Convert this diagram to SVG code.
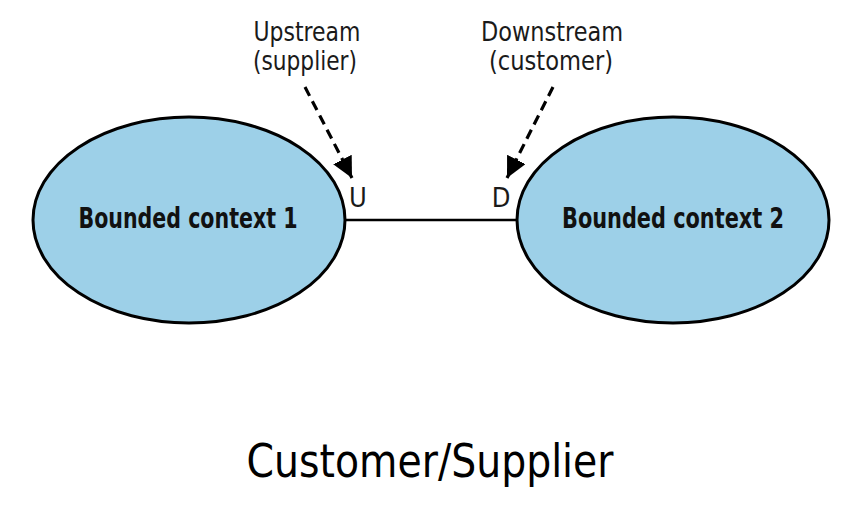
<svg xmlns="http://www.w3.org/2000/svg" width="863" height="510" viewBox="0 0 863 510">
<style>
.ctx{fill:#9dd0e8;stroke:#000;stroke-width:3}
.lbl{font-family:"DejaVu Sans Condensed","DejaVu Sans",sans-serif;font-size:27px;fill:#1a1a1a;text-anchor:middle}
.bold{font-family:"DejaVu Sans Condensed","DejaVu Sans",sans-serif;font-weight:bold;font-size:28px;fill:#111;text-anchor:middle}
.dash{stroke:#000;stroke-width:3.2;stroke-dasharray:10 6;fill:none}
</style>
<defs>
<marker id="ah" viewBox="0 0 10 10" refX="10" refY="5" markerWidth="6.5" markerHeight="6.5" markerUnits="strokeWidth" orient="auto">
<path d="M0,0 L10,5 L0,10 z" fill="#000"/>
</marker>
</defs>
<rect width="863" height="510" fill="#fff"/>
<g id="connectors">
<line x1="345" y1="220" x2="517" y2="220" stroke="#000" stroke-width="2.5"/>
<line class="dash" x1="305" y1="87" x2="352" y2="178" marker-end="url(#ah)"/>
<line class="dash" x1="553" y1="87" x2="507" y2="178" marker-end="url(#ah)"/>
</g>
<g id="bc1">
<ellipse class="ctx" cx="189" cy="220" rx="156" ry="103"/>
<text class="bold" x="188" y="228" textLength="219" lengthAdjust="spacingAndGlyphs">Bounded context 1</text>
</g>
<g id="bc2">
<ellipse class="ctx" cx="673" cy="220" rx="156" ry="103"/>
<text class="bold" x="673" y="228" textLength="222" lengthAdjust="spacingAndGlyphs">Bounded context 2</text>
</g>
<g id="upstream">
<text class="lbl" x="307" y="41" textLength="107" lengthAdjust="spacingAndGlyphs">Upstream</text>
<text class="lbl" x="305" y="70" textLength="104" lengthAdjust="spacingAndGlyphs">(supplier)</text>
<text class="lbl" x="358" y="207">U</text>
</g>
<g id="downstream">
<text class="lbl" x="552" y="41" textLength="142" lengthAdjust="spacingAndGlyphs">Downstream</text>
<text class="lbl" x="551" y="70" textLength="124" lengthAdjust="spacingAndGlyphs">(customer)</text>
<text class="lbl" x="501" y="207">D</text>
</g>
<text x="430" y="477" font-family="DejaVu Sans,sans-serif" font-size="46" text-anchor="middle" fill="#000" textLength="367" lengthAdjust="spacingAndGlyphs">Customer/Supplier</text>
</svg>
